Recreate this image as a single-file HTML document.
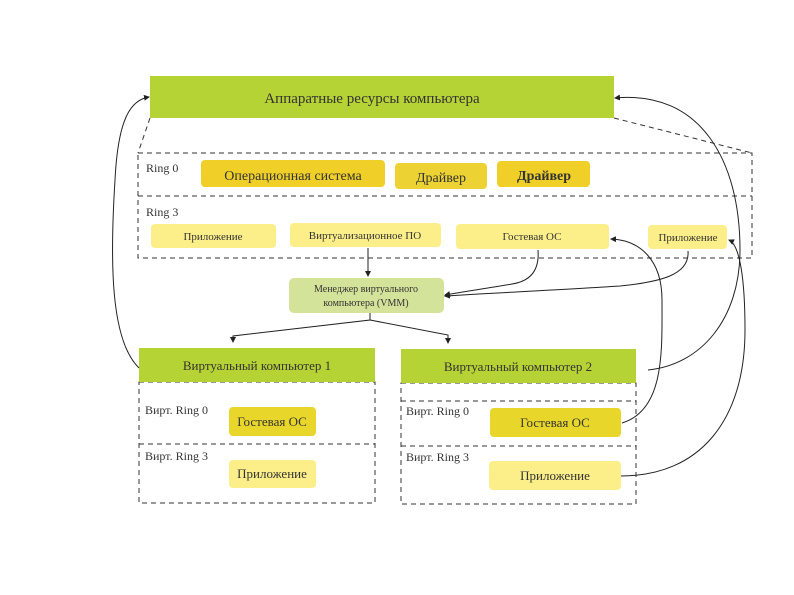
<!DOCTYPE html>
<html><head><meta charset="utf-8"><style>
body{margin:0;background:#fff}
svg{display:block}
text{font-family:"Liberation Serif","DejaVu Serif",serif;fill:#333}
</style></head><body>
<svg width="794" height="595" viewBox="0 0 794 595" xmlns="http://www.w3.org/2000/svg">
<defs>
<marker id="a" markerWidth="6" markerHeight="6" refX="5" refY="3" orient="auto"><path d="M0,0L6,3L0,6z" fill="#222"/></marker>
</defs>
<rect x="150" y="76" width="464" height="42" fill="#b5d334"/>
<text x="372" y="103" font-size="15" text-anchor="middle">Аппаратные ресурсы компьютера</text>
<g fill="none" stroke="#333" stroke-width="1" stroke-dasharray="5,4">
<path d="M614 118 L752 153"/>
<path d="M150 118 L138 153"/>
<rect x="138" y="153" width="614" height="105"/>
<path d="M138 196 H752"/>
<rect x="139" y="382" width="236" height="121"/>
<path d="M139 444 H375"/>
<rect x="401" y="383" width="235" height="121"/>
<path d="M401 401 H636 M401 446 H636"/>
</g>
<text x="146" y="172" font-size="12">Ring 0</text>
<text x="146" y="216" font-size="12">Ring 3</text>
<rect x="201" y="160" width="184" height="27" rx="4" fill="#f0d028"/>
<text x="293" y="180" font-size="14" text-anchor="middle">Операционная система</text>
<rect x="395" y="163" width="92" height="26" rx="4" fill="#ecd233"/>
<text x="441" y="182" font-size="14" text-anchor="middle">Драйвер</text>
<rect x="497" y="161" width="93" height="26" rx="4" fill="#f0d028"/>
<text x="544" y="180" font-size="14" text-anchor="middle" font-weight="bold">Драйвер</text>
<g fill="#fcef8a">
<rect x="151" y="224" width="125" height="24" rx="4"/>
<rect x="290" y="223" width="151" height="24" rx="4"/>
<rect x="456" y="224" width="153" height="25" rx="4"/>
<rect x="648" y="225" width="79" height="24" rx="4"/>
</g>
<g font-size="11" text-anchor="middle">
<text x="213" y="240">Приложение</text>
<text x="365" y="239">Виртуализационное ПО</text>
<text x="532" y="240">Гостевая ОС</text>
<text x="688" y="241">Приложение</text>
</g>
<rect x="289" y="278" width="155" height="35" rx="5" fill="#d4e39a"/>
<text x="366" y="292" font-size="10" text-anchor="middle">Менеджер виртуального</text>
<text x="366" y="306" font-size="10" text-anchor="middle">компьютера (VMM)</text>
<rect x="139" y="348" width="236" height="34" fill="#b5d334"/>
<text x="257" y="370" font-size="13" text-anchor="middle">Виртуальный компьютер 1</text>
<rect x="401" y="349" width="235" height="34" fill="#b5d334"/>
<text x="518" y="371" font-size="13" text-anchor="middle">Виртуальный компьютер 2</text>
<g font-size="12">
<text x="145" y="414">Вирт. Ring 0</text>
<text x="145" y="460">Вирт. Ring 3</text>
<text x="406" y="415">Вирт. Ring 0</text>
<text x="406" y="461">Вирт. Ring 3</text>
</g>
<rect x="229" y="407" width="87" height="29" rx="4" fill="#e8d62a"/>
<rect x="229" y="460" width="87" height="28" rx="4" fill="#fcef8a"/>
<rect x="490" y="408" width="131" height="29" rx="4" fill="#e8d62a"/>
<rect x="489" y="461" width="132" height="29" rx="4" fill="#fcef8a"/>
<g font-size="13" text-anchor="middle">
<text x="272" y="426">Гостевая ОС</text>
<text x="272" y="478">Приложение</text>
<text x="555" y="427">Гостевая ОС</text>
<text x="555" y="480">Приложение</text>
</g>
<g fill="none" stroke="#222" stroke-width="1">
<path d="M368 248 V276" marker-end="url(#a)"/>
<path d="M370 313 V320 L233 336 V342" marker-end="url(#a)"/>
<path d="M370 320 L448 335 V343" marker-end="url(#a)"/>
<path d="M538 250 C540 275 525 282 512 284 C490 288 460 292 445 295" marker-end="url(#a)"/>
<path d="M688 251 C690 275 660 282 620 286 C560 290 490 293 445 296" marker-end="url(#a)"/>
<path d="M139 368 C110 340 110 260 115 180 C118 120 130 100 149 97" marker-end="url(#a)"/>
<path d="M648 370 C700 365 740 320 740 250 C740 160 700 90 615 98" marker-end="url(#a)"/>
<path d="M622 423 C665 410 662 350 662 300 C662 260 640 240 611 239" marker-end="url(#a)"/>
<path d="M621 476 C700 476 745 420 745 330 C745 280 740 245 729 240" marker-end="url(#a)"/>
</g>
</svg>
</body></html>
